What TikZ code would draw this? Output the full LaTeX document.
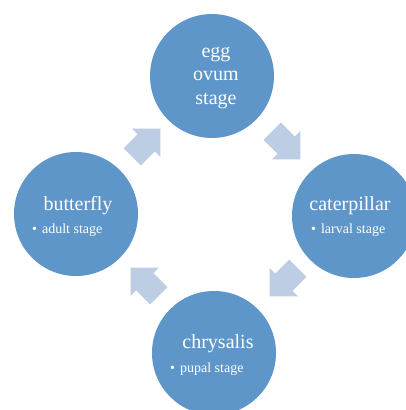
\documentclass[tikz,border=0pt]{standalone}
\usepackage{fontspec}
\setmainfont{Liberation Serif}
\usetikzlibrary{shapes.arrows, calc}
\definecolor{stageblue}{RGB}{95, 150, 201}
\definecolor{flowblue}{RGB}{189, 205, 227}

\begin{document}
\begin{tikzpicture}[x=1pt, y=-1pt,
  stage/.style={circle, fill=stageblue, minimum size=124pt, inner sep=0pt},
  title/.style={text=white, anchor=base, font=\fontsize{20}{23.5}\selectfont},
  note/.style={text=white, anchor=base west, inner sep=0pt, font=\fontsize{14}{16}\selectfont},
  flow/.style={single arrow, fill=flowblue, minimum height=40pt, inner xsep=0pt, inner ysep=12pt, single arrow head extend=8pt}
]
  \useasboundingbox (0, 0) rectangle (406, 410);
  \clip (0, 0) rectangle (406, 410);

  % Stages
  \node[stage] (egg)         at (212, 76)  {};
  \node[stage] (caterpillar) at (354, 216) {};
  \node[stage] (chrysalis)   at (214, 353) {};
  \node[stage] (butterfly)   at (76, 214)  {};

  % Texts
  \node[title, anchor=center, align=center] (eggtext) at (216, 78) {egg\\ovum\\stage};

  \node[title] (cattext) at (350, 210) {caterpillar};
  \node[note] (catnote) at (311, 233) {\textbullet\hspace{5pt}larval stage};

  \node[title] (chrtext) at (218, 348) {chrysalis};
  \node[note] (chrnote) at (170, 372) {\textbullet\hspace{5pt}pupal stage};

  \node[title] (buttext) at (78, 210) {butterfly};
  \node[note] (butnote) at (32, 233) {\textbullet\hspace{5pt}adult stage};

  % Cycle arrows
  \node[flow, rotate=-45] (flow1) at (282, 141) {};
  \node[flow, rotate=-135] (flow2) at (288, 278) {};
  \node[flow, rotate=135] (flow3) at (149, 286) {};
  \node[flow, rotate=45] (flow4) at (142, 147) {};
\end{tikzpicture}
\end{document}
